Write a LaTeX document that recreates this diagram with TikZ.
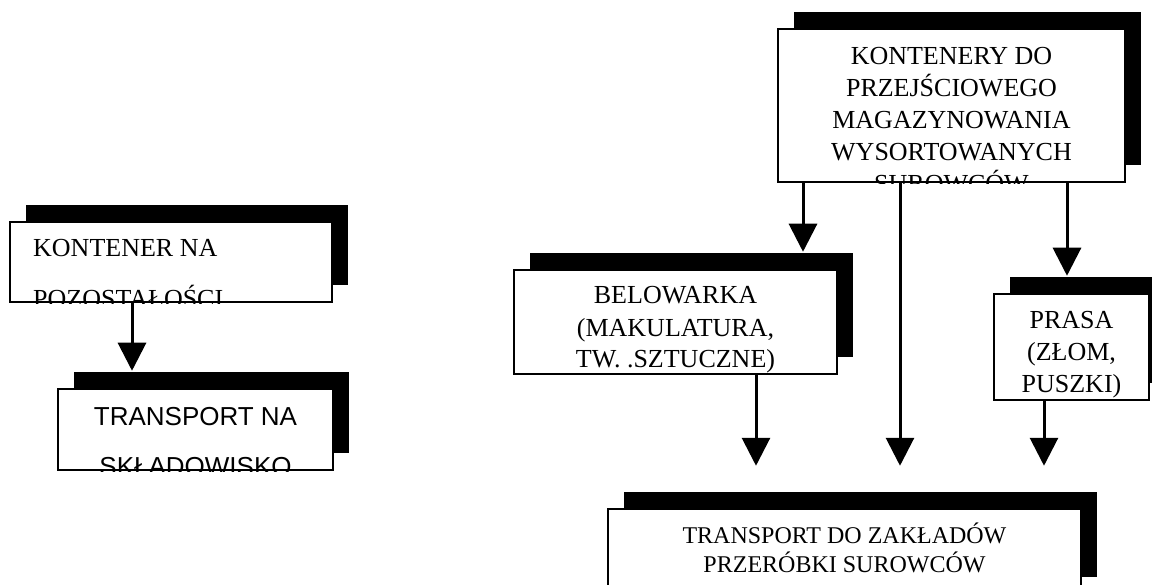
\documentclass[tikz,border=0pt]{standalone}
\usepackage{fontspec}
\setmainfont{Liberation Serif}
\newfontfamily\arialfont{Liberation Sans}
\usetikzlibrary{arrows.meta,shadows}

\tikzset{
  box/.style={draw, line width=2.5pt, fill=white, inner sep=0pt,
    drop shadow={shadow xshift=16pt, shadow yshift=17pt, fill=black, opacity=1}},
  txt/.style={inner sep=0pt, align=center, anchor=base, font=\fontsize{26}{31.5}\selectfont},
  arr/.style={line width=3pt, -{Triangle[width=28pt,length=28pt]}}
}

\begin{document}
\begin{tikzpicture}[x=1pt,y=-1pt]
\useasboundingbox (0,0) rectangle (1152,585);

	% Draw boxes
	\node[box, minimum width=322pt, minimum height=80pt] (kont) at (171,262) {};
	\node[box, minimum width=275pt, minimum height=81pt] (transp) at (195.5,429.5) {};
	\node[box, minimum width=347pt, minimum height=153pt] (magaz) at (951.5,105.5) {};
	\node[box, minimum width=323pt, minimum height=104pt] (below) at (675.5,322) {};
	\node[box, minimum width=155pt, minimum height=106pt] (prasa) at (1071.5,347) {};
	\node[box, minimum width=473pt, minimum height=85pt] (zakl) at (844.5,551.5) {};

	% Texts, cut at the bottom of each box (base = last line)
	\begin{scope}
		\clip (kont.south west) rectangle (kont.north east);
		\node[txt, align=left, anchor=base west, font=\fontsize{26}{51}\selectfont] (kontT) at (33,308) {KONTENER NA\\POZOSTAŁOŚCI};
	\end{scope}
	\begin{scope}
		\clip (transp.south west) rectangle (transp.north east);
		\node[txt, font=\arialfont\fontsize{26}{50}\selectfont] (transpT) at (195.5,475) {TRANSPORT NA\\SKŁADOWISKO};
	\end{scope}
	\begin{scope}
		\clip (magaz.south west) rectangle (magaz.north east);
		\node[txt, font=\fontsize{26}{32.2}\selectfont] (magazT) at (951.5,193) {KONTENERY DO\\PRZEJŚCIOWEGO\\MAGAZYNOWANIA\\WYSORTOWANYCH\\SUROWCÓW};
	\end{scope}
	\begin{scope}
		\clip (below.south west) rectangle (below.north east);
		\node[txt, font=\fontsize{26}{32}\selectfont] (belowT) at (675.5,368) {BELOWARKA\\(MAKULATURA,\\TW. .SZTUCZNE)};
	\end{scope}
	\begin{scope}
		\clip (prasa.south west) rectangle (prasa.north east);
		\node[txt, font=\fontsize{26}{32}\selectfont] (prasaT) at (1071.5,392) {PRASA\\(ZŁOM,\\PUSZKI)};
	\end{scope}
	\node[txt, font=\fontsize{24}{29.5}\selectfont] (zaklT) at (844.5,572.5) {TRANSPORT DO ZAKŁADÓW\\PRZERÓBKI SUROWCÓW};

	% Draw arrows
	\draw[arr] ([xshift=-39pt]kont.south) -- ([xshift=-63.5pt,yshift=17pt]transp.north);
	\draw[arr] ([xshift=-148.5pt]magaz.south) -- ([xshift=127.5pt,yshift=17pt]below.north);
	\draw[arr] ([xshift=-51.5pt]magaz.south) -- ([xshift=55.5pt,yshift=42pt]zakl.north);
	\draw[arr] ([xshift=115.5pt]magaz.south) -- ([xshift=-4.5pt,yshift=17pt]prasa.north);
	\draw[arr] ([xshift=80.5pt]below.south) -- ([xshift=-88.5pt,yshift=42pt]zakl.north);
	\draw[arr] ([xshift=-27.5pt]prasa.south) -- ([xshift=199.5pt,yshift=42pt]zakl.north);
\end{tikzpicture}
\end{document}
